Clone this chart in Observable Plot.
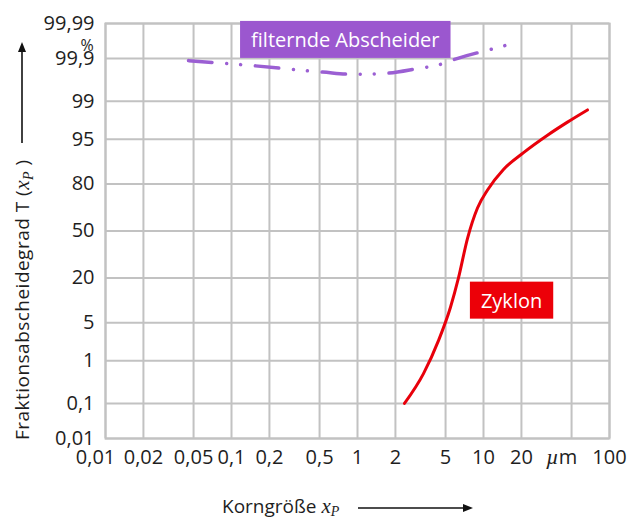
<!DOCTYPE html>
<html><head><meta charset="utf-8">
<script src="https://cdn.jsdelivr.net/npm/d3@7"></script>
<script src="https://cdn.jsdelivr.net/npm/@observablehq/plot@0.6"></script>
<style>
body{margin:0;background:#fff;}
#chart{width:628px;height:519px;}
</style></head><body><div id="chart"></div>
<script>
// ---- data ----
const xTicks = [0.01, 0.02, 0.05, 0.1, 0.2, 0.5, 1, 2, 5, 10, 20, 50, 100];
const xTickLabels = ["0,01","0,02","0,05","0,1","0,2","0,5","1","2","5","10","20","µm","100"];
const yTicks = [0.01, 0.1, 1, 5, 20, 50, 80, 95, 99, 99.9, 99.99];
const yTickLabels = ["0,01","0,1","1","5","20","50","80","95","99","99,9","99,99"];

// Zyklon: particle size (µm) vs. grade efficiency (%)
const zyklonX = [2.36, 3.34, 4.4, 5.47, 6.33, 7.46, 8.96, 10.8, 14.4, 20.8, 32.2, 46.4, 66.9];
const zyklonT = [0.1, 0.53, 2.5, 8.6, 20, 44.6, 66, 77, 86.5, 92, 95.7, 97.45, 98.5];
// filternde Abscheider
const filterX = [0.0456, 0.155, 0.528, 0.96, 1.76, 2.89, 4.73, 5.78, 9.12, 14.96, 18.97];
const filterT = [99.887, 99.846, 99.78, 99.75, 99.767, 99.816, 99.864, 99.893, 99.931, 99.956, 99.967];

// labels (anchor in data units)
const labelText = ["filternde Abscheider", "Zyklon"];
const labelX = [0.80, 16.7];
const labelT = [99.968, 10.4];
const labelColor = ["#9b57cf", "#ec0008"];

// ---- probability (probit) transform ----
function probit(p){
  const a=[-3.969683028665376e+01,2.209460984245205e+02,-2.759285104469687e+02,1.383577518672690e+02,-3.066479806614716e+01,2.506628277459239e+00];
  const b=[-5.447609879822406e+01,1.615858368580409e+02,-1.556989798598866e+02,6.680131188771972e+01,-1.328068155288572e+01];
  const c=[-7.784894002430293e-03,-3.223964580411365e-01,-2.400758277161838e+00,-2.549732539343734e+00,4.374664141464968e+00,2.938163982698783e+00];
  const d=[7.784695709041462e-03,3.224671290700398e-01,2.445134137142996e+00,3.754408661907416e+00];
  const pl=0.02425, ph=1-pl; let q,r;
  if(p<pl){q=Math.sqrt(-2*Math.log(p));return (((((c[0]*q+c[1])*q+c[2])*q+c[3])*q+c[4])*q+c[5])/((((d[0]*q+d[1])*q+d[2])*q+d[3])*q+1);}
  if(p<=ph){q=p-0.5;r=q*q;return (((((a[0]*r+a[1])*r+a[2])*r+a[3])*r+a[4])*r+a[5])*q/(((((b[0]*r+b[1])*r+b[2])*r+b[3])*r+b[4])*r+1);}
  q=Math.sqrt(-2*Math.log(1-p));return -(((((c[0]*q+c[1])*q+c[2])*q+c[3])*q+c[4])*q+c[5])/((((d[0]*q+d[1])*q+d[2])*q+d[3])*q+1);
}
const P = t => probit(t/100);

const yTicksP = yTicks.map(P);
const yLab = new Map(yTicksP.map((v,i)=>[v, yTickLabels[i]]));
const xTickData = xTicks.map((v,i)=>({x: v, label: xTickLabels[i], i}));
const xShifted = d => d.i === 0 || d.label === "µm";   // labels set slightly left in the original

const zyklon = zyklonX.map((x,i)=>({x, p:P(zyklonT[i])}));
const filter = filterX.map((x,i)=>({x, p:P(filterT[i])}));
const labels = labelText.map((t,i)=>({text:t, x:labelX[i], p:P(labelT[i])}));

const grid = "#c2c2c2";
const ink = "#1e1e1e";
const fs = 20;
const chart = Plot.plot({
  width: 628, height: 519,
  marginLeft: 105, marginRight: 19, marginTop: 23, marginBottom: 81,
  style: {fontFamily: "'Open Sans', sans-serif", fontSize: fs + "px", color: ink, background: "#fff"},
  x: {type: "log", domain: [xTicks[0], xTicks[xTicks.length-1]], axis: null},
  y: {type: "linear", domain: [yTicksP[0], yTicksP[yTicksP.length-1]]},
  marks: [
    Plot.gridX(xTicks, {stroke: grid, strokeOpacity: 1, strokeWidth: 2}),
    Plot.gridY(yTicksP, {stroke: grid, strokeOpacity: 1, strokeWidth: 2}),
    Plot.frame({stroke: grid, strokeWidth: 2}),
    Plot.text(xTickData, {filter: d => !xShifted(d), x: "x", text: "label", frameAnchor: "bottom", dy: 25, fontSize: fs, fill: ink}),
    Plot.text(xTickData, {filter: xShifted, x: "x", text: "label", frameAnchor: "bottom", dy: 25, dx: -10, fontSize: fs, fill: ink}),
    Plot.axisY(yTicksP, {tickSize: 0, tickPadding: 11, tickFormat: d => yLab.get(d), label: null, fontSize: fs}),
    Plot.text(["%"], {frameAnchor: "top-left", dx: -25, dy: 16, fontSize: 16, fill: ink}),
    Plot.line(filter, {x: "x", y: "p", stroke: "#9b5fd3", strokeWidth: 3.5, curve: "monotone-x",
      strokeDasharray: "23.5,14.75,0.01,14,0.01,14.75", strokeLinecap: "round"}),
    Plot.line(zyklon, {x: "x", y: "p", stroke: "#e8000b", strokeWidth: 3, curve: "monotone-x"}),
    Plot.text(labels, {x: "x", y: "p", text: "text", fill: "white", fontSize: fs})
  ]
});
document.getElementById("chart").append(chart);

const svg = d3.select(chart);
// label boxes behind the series labels
svg.selectAll("text").each(function(){
  const idx = labelText.indexOf(this.textContent);
  if (idx < 0) return;
  const bb = this.getBBox();
  d3.select(this.parentNode).insert("rect", () => this)
    .attr("transform", this.getAttribute("transform"))
    .attr("x", bb.x - 11).attr("y", bb.y - 5)
    .attr("width", bb.width + 22).attr("height", bb.height + 10)
    .attr("fill", labelColor[idx]);
});
// italic µ
svg.selectAll("text").each(function(){
  if (this.textContent === "µm") {
    this.textContent = "";
    d3.select(this).append("tspan").attr("font-family","'Liberation Serif',serif").attr("font-style","italic").attr("font-size",22).text("µ");
    d3.select(this).append("tspan").text("m");
  }
});
// axis titles
const serif = "'Liberation Serif', serif";
const yt = svg.append("text").attr("transform","translate(29,440) rotate(-90)").attr("text-anchor","start")
  .attr("font-size",19).attr("fill",ink).attr("textLength",280).attr("lengthAdjust","spacing");
yt.append("tspan").text("Fraktionsabscheidegrad T (");
yt.append("tspan").attr("font-family",serif).attr("font-style","italic").attr("font-size",21).text("x");
yt.append("tspan").attr("font-family",serif).attr("font-style","italic").attr("font-size",14).attr("dy",4).text("P");
yt.append("tspan").attr("dy",-4).text(" )");
const xt = svg.append("text").attr("x",222).attr("y",513).attr("text-anchor","start").attr("font-size",19).attr("fill",ink);
xt.append("tspan").text("Korngröße ");
xt.append("tspan").attr("font-family",serif).attr("font-style","italic").attr("font-size",21).text("x");
xt.append("tspan").attr("font-family",serif).attr("font-style","italic").attr("font-size",14).attr("dy",3).text("P");
// arrows
svg.append("line").attr("x1",358).attr("x2",465).attr("y1",508).attr("y2",508).attr("stroke","#111").attr("stroke-width",1.6);
svg.append("path").attr("d","M473,508L463,504L463,512Z").attr("fill","#111");
svg.append("line").attr("x1",22).attr("x2",22).attr("y1",143).attr("y2",50).attr("stroke","#111").attr("stroke-width",1.6);
svg.append("path").attr("d","M22,42L18,52L26,52Z").attr("fill","#111");
</script></body></html>
